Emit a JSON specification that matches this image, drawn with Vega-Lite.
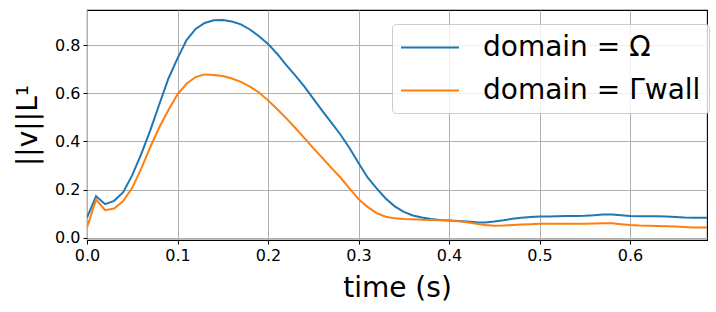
{
  "$schema": "https://vega.github.io/schema/vega-lite/v6.json",
  "width": 620,
  "height": 230,
  "autosize": "none",
  "padding": {"left": 87, "top": 10, "right": 9, "bottom": 72},
  "background": "white",
  "config": {
    "font": "DejaVu Sans",
    "view": {"stroke": "black", "strokeWidth": 1.1},
    "axis": {
      "domain": false,
      "grid": true,
      "gridColor": "#b0b0b0",
      "gridWidth": 1,
      "tickColor": "black",
      "tickSize": 4,
      "tickWidth": 1,
      "labelFont": "DejaVu Sans",
      "labelFontSize": 16,
      "labelColor": "black",
      "labelPadding": 3,
      "labelFlush": false,
      "titleFont": "DejaVu Sans",
      "titleFontSize": 28,
      "titleFontWeight": "normal",
      "titleColor": "black"
    },
    "legend": {
      "labelFont": "DejaVu Sans",
      "labelFontSize": 28,
      "labelColor": "black",
      "labelLimit": 0
    }
  },
  "data": {
    "values": [
      {"t": 0, "v": 0.083, "domain": "domain = Ω"},
      {"t": 0.01, "v": 0.172, "domain": "domain = Ω"},
      {"t": 0.02, "v": 0.139, "domain": "domain = Ω"},
      {"t": 0.03, "v": 0.153, "domain": "domain = Ω"},
      {"t": 0.04, "v": 0.189, "domain": "domain = Ω"},
      {"t": 0.05, "v": 0.26, "domain": "domain = Ω"},
      {"t": 0.06, "v": 0.348, "domain": "domain = Ω"},
      {"t": 0.07, "v": 0.447, "domain": "domain = Ω"},
      {"t": 0.08, "v": 0.556, "domain": "domain = Ω"},
      {"t": 0.09, "v": 0.662, "domain": "domain = Ω"},
      {"t": 0.10, "v": 0.746, "domain": "domain = Ω"},
      {"t": 0.11, "v": 0.822, "domain": "domain = Ω"},
      {"t": 0.12, "v": 0.868, "domain": "domain = Ω"},
      {"t": 0.13, "v": 0.893, "domain": "domain = Ω"},
      {"t": 0.14, "v": 0.904, "domain": "domain = Ω"},
      {"t": 0.15, "v": 0.905, "domain": "domain = Ω"},
      {"t": 0.16, "v": 0.899, "domain": "domain = Ω"},
      {"t": 0.17, "v": 0.887, "domain": "domain = Ω"},
      {"t": 0.18, "v": 0.866, "domain": "domain = Ω"},
      {"t": 0.19, "v": 0.838, "domain": "domain = Ω"},
      {"t": 0.20, "v": 0.806, "domain": "domain = Ω"},
      {"t": 0.21, "v": 0.765, "domain": "domain = Ω"},
      {"t": 0.22, "v": 0.719, "domain": "domain = Ω"},
      {"t": 0.23, "v": 0.675, "domain": "domain = Ω"},
      {"t": 0.24, "v": 0.629, "domain": "domain = Ω"},
      {"t": 0.25, "v": 0.578, "domain": "domain = Ω"},
      {"t": 0.26, "v": 0.527, "domain": "domain = Ω"},
      {"t": 0.27, "v": 0.478, "domain": "domain = Ω"},
      {"t": 0.28, "v": 0.429, "domain": "domain = Ω"},
      {"t": 0.29, "v": 0.373, "domain": "domain = Ω"},
      {"t": 0.30, "v": 0.31, "domain": "domain = Ω"},
      {"t": 0.31, "v": 0.25, "domain": "domain = Ω"},
      {"t": 0.32, "v": 0.205, "domain": "domain = Ω"},
      {"t": 0.33, "v": 0.163, "domain": "domain = Ω"},
      {"t": 0.34, "v": 0.13, "domain": "domain = Ω"},
      {"t": 0.35, "v": 0.107, "domain": "domain = Ω"},
      {"t": 0.36, "v": 0.092, "domain": "domain = Ω"},
      {"t": 0.37, "v": 0.084, "domain": "domain = Ω"},
      {"t": 0.38, "v": 0.077, "domain": "domain = Ω"},
      {"t": 0.39, "v": 0.073, "domain": "domain = Ω"},
      {"t": 0.40, "v": 0.071, "domain": "domain = Ω"},
      {"t": 0.41, "v": 0.069, "domain": "domain = Ω"},
      {"t": 0.42, "v": 0.067, "domain": "domain = Ω"},
      {"t": 0.43, "v": 0.064, "domain": "domain = Ω"},
      {"t": 0.44, "v": 0.063, "domain": "domain = Ω"},
      {"t": 0.45, "v": 0.067, "domain": "domain = Ω"},
      {"t": 0.46, "v": 0.072, "domain": "domain = Ω"},
      {"t": 0.47, "v": 0.078, "domain": "domain = Ω"},
      {"t": 0.48, "v": 0.083, "domain": "domain = Ω"},
      {"t": 0.49, "v": 0.086, "domain": "domain = Ω"},
      {"t": 0.50, "v": 0.088, "domain": "domain = Ω"},
      {"t": 0.51, "v": 0.088, "domain": "domain = Ω"},
      {"t": 0.52, "v": 0.089, "domain": "domain = Ω"},
      {"t": 0.53, "v": 0.09, "domain": "domain = Ω"},
      {"t": 0.54, "v": 0.09, "domain": "domain = Ω"},
      {"t": 0.55, "v": 0.091, "domain": "domain = Ω"},
      {"t": 0.56, "v": 0.093, "domain": "domain = Ω"},
      {"t": 0.57, "v": 0.096, "domain": "domain = Ω"},
      {"t": 0.58, "v": 0.096, "domain": "domain = Ω"},
      {"t": 0.59, "v": 0.093, "domain": "domain = Ω"},
      {"t": 0.60, "v": 0.09, "domain": "domain = Ω"},
      {"t": 0.61, "v": 0.089, "domain": "domain = Ω"},
      {"t": 0.62, "v": 0.089, "domain": "domain = Ω"},
      {"t": 0.63, "v": 0.089, "domain": "domain = Ω"},
      {"t": 0.64, "v": 0.088, "domain": "domain = Ω"},
      {"t": 0.65, "v": 0.086, "domain": "domain = Ω"},
      {"t": 0.66, "v": 0.084, "domain": "domain = Ω"},
      {"t": 0.67, "v": 0.083, "domain": "domain = Ω"},
      {"t": 0.68, "v": 0.083, "domain": "domain = Ω"},
      {"t": 0.685, "v": 0.083, "domain": "domain = Ω"},
      {"t": 0, "v": 0.041, "domain": "domain = Γwall"},
      {"t": 0.01, "v": 0.158, "domain": "domain = Γwall"},
      {"t": 0.02, "v": 0.114, "domain": "domain = Γwall"},
      {"t": 0.03, "v": 0.121, "domain": "domain = Γwall"},
      {"t": 0.04, "v": 0.152, "domain": "domain = Γwall"},
      {"t": 0.05, "v": 0.207, "domain": "domain = Γwall"},
      {"t": 0.06, "v": 0.288, "domain": "domain = Γwall"},
      {"t": 0.07, "v": 0.377, "domain": "domain = Γwall"},
      {"t": 0.08, "v": 0.46, "domain": "domain = Γwall"},
      {"t": 0.09, "v": 0.531, "domain": "domain = Γwall"},
      {"t": 0.10, "v": 0.596, "domain": "domain = Γwall"},
      {"t": 0.11, "v": 0.64, "domain": "domain = Γwall"},
      {"t": 0.12, "v": 0.668, "domain": "domain = Γwall"},
      {"t": 0.13, "v": 0.679, "domain": "domain = Γwall"},
      {"t": 0.14, "v": 0.677, "domain": "domain = Γwall"},
      {"t": 0.15, "v": 0.672, "domain": "domain = Γwall"},
      {"t": 0.16, "v": 0.662, "domain": "domain = Γwall"},
      {"t": 0.17, "v": 0.648, "domain": "domain = Γwall"},
      {"t": 0.18, "v": 0.628, "domain": "domain = Γwall"},
      {"t": 0.19, "v": 0.604, "domain": "domain = Γwall"},
      {"t": 0.20, "v": 0.571, "domain": "domain = Γwall"},
      {"t": 0.21, "v": 0.535, "domain": "domain = Γwall"},
      {"t": 0.22, "v": 0.497, "domain": "domain = Γwall"},
      {"t": 0.23, "v": 0.457, "domain": "domain = Γwall"},
      {"t": 0.24, "v": 0.415, "domain": "domain = Γwall"},
      {"t": 0.25, "v": 0.372, "domain": "domain = Γwall"},
      {"t": 0.26, "v": 0.332, "domain": "domain = Γwall"},
      {"t": 0.27, "v": 0.29, "domain": "domain = Γwall"},
      {"t": 0.28, "v": 0.25, "domain": "domain = Γwall"},
      {"t": 0.29, "v": 0.205, "domain": "domain = Γwall"},
      {"t": 0.30, "v": 0.16, "domain": "domain = Γwall"},
      {"t": 0.31, "v": 0.128, "domain": "domain = Γwall"},
      {"t": 0.32, "v": 0.102, "domain": "domain = Γwall"},
      {"t": 0.33, "v": 0.087, "domain": "domain = Γwall"},
      {"t": 0.34, "v": 0.08, "domain": "domain = Γwall"},
      {"t": 0.35, "v": 0.077, "domain": "domain = Γwall"},
      {"t": 0.36, "v": 0.076, "domain": "domain = Γwall"},
      {"t": 0.37, "v": 0.074, "domain": "domain = Γwall"},
      {"t": 0.38, "v": 0.073, "domain": "domain = Γwall"},
      {"t": 0.39, "v": 0.072, "domain": "domain = Γwall"},
      {"t": 0.40, "v": 0.071, "domain": "domain = Γwall"},
      {"t": 0.41, "v": 0.068, "domain": "domain = Γwall"},
      {"t": 0.42, "v": 0.064, "domain": "domain = Γwall"},
      {"t": 0.43, "v": 0.058, "domain": "domain = Γwall"},
      {"t": 0.44, "v": 0.052, "domain": "domain = Γwall"},
      {"t": 0.45, "v": 0.049, "domain": "domain = Γwall"},
      {"t": 0.46, "v": 0.05, "domain": "domain = Γwall"},
      {"t": 0.47, "v": 0.052, "domain": "domain = Γwall"},
      {"t": 0.48, "v": 0.054, "domain": "domain = Γwall"},
      {"t": 0.49, "v": 0.056, "domain": "domain = Γwall"},
      {"t": 0.50, "v": 0.058, "domain": "domain = Γwall"},
      {"t": 0.51, "v": 0.058, "domain": "domain = Γwall"},
      {"t": 0.52, "v": 0.058, "domain": "domain = Γwall"},
      {"t": 0.53, "v": 0.058, "domain": "domain = Γwall"},
      {"t": 0.54, "v": 0.058, "domain": "domain = Γwall"},
      {"t": 0.55, "v": 0.058, "domain": "domain = Γwall"},
      {"t": 0.56, "v": 0.059, "domain": "domain = Γwall"},
      {"t": 0.57, "v": 0.06, "domain": "domain = Γwall"},
      {"t": 0.58, "v": 0.06, "domain": "domain = Γwall"},
      {"t": 0.59, "v": 0.056, "domain": "domain = Γwall"},
      {"t": 0.60, "v": 0.052, "domain": "domain = Γwall"},
      {"t": 0.61, "v": 0.05, "domain": "domain = Γwall"},
      {"t": 0.62, "v": 0.049, "domain": "domain = Γwall"},
      {"t": 0.63, "v": 0.048, "domain": "domain = Γwall"},
      {"t": 0.64, "v": 0.047, "domain": "domain = Γwall"},
      {"t": 0.65, "v": 0.046, "domain": "domain = Γwall"},
      {"t": 0.66, "v": 0.044, "domain": "domain = Γwall"},
      {"t": 0.67, "v": 0.042, "domain": "domain = Γwall"},
      {"t": 0.68, "v": 0.042, "domain": "domain = Γwall"},
      {"t": 0.685, "v": 0.042, "domain": "domain = Γwall"}
    ]
  },
  "mark": {"type": "line", "strokeWidth": 2, "clip": true},
  "encoding": {
    "x": {
      "field": "t",
      "type": "quantitative",
      "scale": {"domain": [0, 0.685], "nice": false, "zero": false},
      "axis": {"values": [0, 0.1, 0.2, 0.3, 0.4, 0.5, 0.6], "format": ".1f", "title": "time (s)", "titlePadding": 11}
    },
    "y": {
      "field": "v",
      "type": "quantitative",
      "scale": {"domain": [-0.01, 0.947], "nice": false, "zero": false},
      "axis": {"values": [0, 0.2, 0.4, 0.6, 0.8], "format": ".1f", "title": "||v||L¹", "titlePadding": 12}
    },
    "color": {
      "field": "domain",
      "type": "nominal",
      "sort": ["domain = Ω", "domain = Γwall"],
      "scale": {"domain": ["domain = Ω", "domain = Γwall"], "range": ["#1f77b4", "#ff7f0e"]},
      "legend": {
        "title": null,
        "orient": "none",
        "legendX": 305,
        "legendY": 14,
        "symbolType": "M-1,0H3",
        "symbolSize": 841,
        "symbolStrokeWidth": 2,
        "labelOffset": 52,
        "rowPadding": 13,
        "padding": 8,
        "fillColor": "rgba(255,255,255,0.8)",
        "strokeColor": "#cccccc",
        "cornerRadius": 4
      }
    }
  }
}
